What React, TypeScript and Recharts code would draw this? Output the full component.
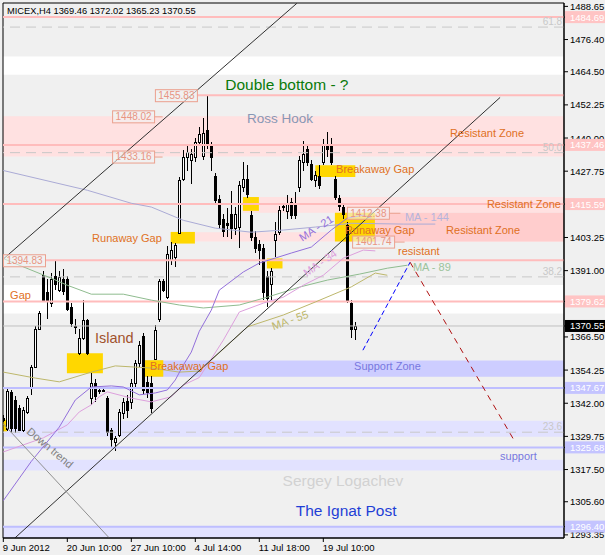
import React from "react";
import {
  ComposedChart,
  Bar,
  Line,
  XAxis,
  YAxis,
  ReferenceArea,
  ReferenceLine,
  ReferenceDot,
} from "recharts";

// MICEX H4 candles (bar index 0..88)
const opens = [
  1336.5, 1332.4, 1346.3, 1343.2, 1340.1, 1332.1, 1338.9, 1348.1, 1355.5, 1369.6,
  1389.4, 1383.0, 1379.0, 1389.0, 1384.0, 1388.0, 1388.0, 1377.5, 1370.6, 1360.4,
  1366.1, 1372.6, 1343.8, 1349.5, 1347.0, 1346.8, 1344.0, 1332.0, 1327.5, 1330.3,
  1338.5, 1343.0, 1342.6, 1349.4, 1356.7, 1367.0, 1350.0, 1349.4, 1358.5, 1373.0,
  1387.0, 1381.3, 1395.0, 1396.0, 1405.0, 1425.0, 1433.0, 1432.0, 1433.0, 1438.6,
  1433.5, 1442.8, 1437.5, 1426.0, 1417.5, 1410.0, 1408.5, 1412.0, 1406.6, 1407.2,
  1422.0, 1425.0, 1411.5, 1403.5, 1401.0, 1399.5, 1389.0, 1386.0, 1402.3, 1405.3,
  1414.5, 1413.0, 1416.4, 1416.0, 1422.0, 1431.0, 1436.0, 1430.5, 1424.4, 1426.0,
  1431.0, 1437.0, 1437.3, 1425.0, 1418.0, 1414.5, 1408.0, 1379.0, 1369.46,
];
const highs = [
  1337.5, 1348.1, 1347.0, 1344.5, 1341.5, 1340.5, 1344.5, 1356.3, 1370.5, 1376.0,
  1391.0, 1388.0, 1390.0, 1394.5, 1391.0, 1391.5, 1389.0, 1379.0, 1373.0, 1369.5,
  1380.1, 1373.0, 1353.0, 1351.0, 1348.0, 1347.5, 1344.5, 1333.0, 1330.0, 1340.0,
  1344.0, 1345.0, 1351.0, 1358.0, 1365.0, 1368.0, 1352.0, 1352.0, 1371.0, 1388.0,
  1388.0, 1400.0, 1401.6, 1401.2, 1425.6, 1435.5, 1437.0, 1436.0, 1440.0, 1444.0,
  1447.5, 1455.8, 1438.5, 1427.0, 1419.0, 1412.0, 1414.0, 1420.5, 1414.5, 1424.0,
  1431.0, 1430.0, 1413.0, 1405.5, 1402.5, 1401.0, 1391.0, 1392.0, 1409.0, 1415.0,
  1416.0, 1419.0, 1418.0, 1420.0, 1433.5, 1439.0, 1437.0, 1432.0, 1428.0, 1430.0,
  1439.5, 1442.3, 1440.0, 1426.0, 1419.0, 1416.0, 1409.0, 1380.0, 1372.02,
];
const lows = [
  1335.0, 1331.7, 1331.5, 1331.0, 1331.7, 1331.5, 1338.0, 1345.0, 1355.0, 1369.0,
  1380.1, 1373.0, 1377.5, 1384.0, 1383.0, 1382.0, 1376.0, 1370.0, 1367.5, 1360.0,
  1365.5, 1360.0, 1341.5, 1342.5, 1345.5, 1346.0, 1330.0, 1325.7, 1324.5, 1329.5,
  1336.0, 1336.5, 1340.0, 1348.0, 1355.5, 1345.5, 1344.0, 1338.3, 1358.0, 1372.0,
  1383.0, 1380.5, 1393.0, 1392.5, 1404.5, 1424.0, 1428.0, 1423.0, 1431.0, 1437.0,
  1432.0, 1436.0, 1428.0, 1415.5, 1406.5, 1403.5, 1403.5, 1402.8, 1404.0, 1399.2,
  1420.0, 1418.0, 1402.0, 1397.5, 1393.0, 1380.0, 1377.5, 1380.0, 1396.0, 1404.0,
  1413.0, 1410.0, 1410.0, 1410.0, 1420.0, 1428.0, 1429.5, 1424.0, 1422.0, 1421.0,
  1430.0, 1433.0, 1430.0, 1417.0, 1413.0, 1410.0, 1379.0, 1366.0, 1365.23,
];
const closes = [
  1335.7, 1346.6, 1332.8, 1332.9, 1332.1, 1339.5, 1343.8, 1355.5, 1369.6, 1375.2,
  1380.1, 1380.0, 1388.0, 1386.0, 1388.5, 1383.5, 1377.0, 1371.5, 1370.3, 1366.0,
  1372.6, 1360.5, 1349.4, 1344.5, 1346.8, 1346.6, 1331.5, 1328.8, 1329.0, 1338.9,
  1342.5, 1339.5, 1349.4, 1356.7, 1363.5, 1347.0, 1346.0, 1340.1, 1369.0, 1387.0,
  1383.8, 1397.3, 1398.5, 1400.5, 1424.4, 1433.0, 1435.0, 1434.0, 1438.6, 1441.6,
  1442.0, 1437.3, 1433.0, 1417.0, 1408.4, 1405.5, 1408.0, 1406.6, 1412.0, 1422.6,
  1425.0, 1419.5, 1403.5, 1399.2, 1398.5, 1383.0, 1381.0, 1391.0, 1404.5, 1413.3,
  1415.0, 1416.0, 1411.5, 1411.5, 1431.8, 1434.0, 1431.0, 1425.0, 1426.3, 1422.6,
  1437.3, 1436.0, 1431.1, 1418.2, 1415.0, 1412.0, 1380.0, 1369.5, 1370.55,
];

// shifted moving averages as [bar, price]
const ma21 = [
  [0, 1306], [7, 1320.5], [14, 1333.2], [18, 1343.2], [22, 1348.0], [27, 1348.4],
  [30, 1348.0], [34, 1345.1], [38, 1345.8], [41, 1346.9], [43, 1350.6], [45, 1356.1],
  [47, 1360.9], [49, 1368.6], [52, 1376.4], [54, 1383.8], [60, 1390.5], [64, 1393.8],
  [72, 1397.5], [77, 1399.7], [82, 1406.0], [86, 1410.4], [90, 1411.5], [92, 1410.4],
];
const ma34 = [
  [0, 1324.0], [10, 1329.2], [16, 1334.0], [19, 1338.8], [22, 1341.4], [24, 1344.4],
  [26, 1346.2], [32, 1343.9], [37, 1342.5], [42, 1344.4], [45, 1348.7], [49, 1351.5],
  [55, 1365.3], [59, 1375.7], [65, 1379.0], [70, 1381.2], [75, 1385.6], [80, 1389.3],
  [85, 1395.6], [90, 1398.6], [93, 1398.3],
];
const ma55 = [
  [0, 1353.5], [8, 1351.3], [14, 1349.9], [22, 1353.5], [28, 1355.8], [37, 1355.0],
  [44, 1353.5], [49, 1353.9], [55, 1362.0], [61, 1370.2], [70, 1374.6], [78, 1379.4],
  [87, 1385.0], [93, 1390.1], [96, 1389.3],
];
const ma89 = [
  [0, 1395.5], [2, 1394.2], [12, 1388.2], [16, 1385.6], [22, 1382.3], [30, 1382.3],
  [37, 1380.1], [44, 1378.3], [50, 1377.2], [59, 1378.3], [66, 1381.2], [74, 1384.9],
  [81, 1387.5], [89, 1389.7], [96, 1391.9], [101, 1393.0],
];
const ma144 = [
  [0, 1428.0], [21, 1420.7], [32, 1415.9], [37, 1414.5], [45, 1409.6], [53, 1406.7],
  [62, 1405.2], [70, 1406.0], [78, 1407.1], [87, 1408.5], [100, 1408.2], [108, 1408.2],
];

const timeTicks = [0, 16, 32, 48, 64, 80];
const timeLabels = ["9 Jun 2012", "20 Jun 10:00", "27 Jun 10:00", "4 Jul 14:00", "11 Jul 18:00", "19 Jul 10:00"];

const priceTicks = [
  1488.65, 1476.4, 1464.5, 1452.25, 1440.0, 1427.75, 1403.25, 1391.0,
  1366.5, 1354.25, 1342.0, 1329.75, 1317.5, 1305.6, 1293.35,
];
const tagPrices = [1484.69, 1437.46, 1415.59, 1379.62, 1370.55, 1347.67, 1325.68, 1296.4];
const tagKinds = ["res", "res", "res", "res", "bid", "sup", "sup", "sup"];

const fiboLevels = [1481.0, 1434.6, 1388.7, 1331.3];
const fiboNames = ["61.8", "50.0", "38.2", "23.6"];

const X0 = -0.075;
const X1 = 140.175;
const Y0 = 1292.2;
const Y1 = 1489.9;
const FONT = "'Liberation Sans', Arial, sans-serif";

const PINK = "#FFBCBC";
const LAV = "#BEBEFF";
const GOLD = "#FFD700";
const ORANGE = "#E07024";

const pick = (pts: number[][], i: number) => {
  const p = pts.find((q) => q[0] === i);
  return p ? p[1] : null;
};

const rows = Array.from({ length: 111 }, (_, i) => ({
  i,
  o: i < opens.length ? opens[i] : null,
  h: i < highs.length ? highs[i] : null,
  l: i < lows.length ? lows[i] : null,
  c: i < closes.length ? closes[i] : null,
  ma21: pick(ma21, i),
  ma34: pick(ma34, i),
  ma55: pick(ma55, i),
  ma89: pick(ma89, i),
  ma144: pick(ma144, i),
}));

// background bands: [x1, x2, top, bottom, colour]
const bands: [number, number, number, number, string][] = [
  [X0, X1, 1470.1, 1463.4, "#FFFFFF"],
  [X0, X1, 1385.7, 1375.2, "#FFFFFF"],
  [X0, X1, 1448.02, 1433.16, "#FFE1E1"],
  [59.9, X1, 1418.2, 1412.38, "#FFE1E1"],
  [41.85, X1, 1405.2, 1401.74, "#FFE1E1"],
  [84.2, X1, 1412.38, 1401.74, "#FFCDCD"],
  [35.4, X1, 1357.8, 1351.8, "#CDCDFF"],
  [X0, X1, 1335.5, 1329.6, "#E2E2FF"],
  [X0, X1, 1321.1, 1317.1, "#E2E2FF"],
  [X0, X1, 1296.3, Y0, "#E2E2FF"],
];

const gaps: [number, number, number, number][] = [
  [X0, 0.9, 1335.9, 1331.6],
  [15.9, 24.9, 1360.5, 1353.1],
  [35.4, 40.0, 1357.9, 1351.8],
  [41.85, 47.9, 1405.3, 1401.0],
  [59.9, 63.9, 1418.2, 1413.1],
  [65.9, 69.8, 1395.5, 1391.8],
  [78.0, 88.0, 1429.9, 1425.6],
  [82.9, 92.9, 1412.38, 1401.74],
];

// level lines: [from, to, price, colour]
const levels: [number, number, number, string][] = [
  [X0, X1, 1484.69, PINK],
  [48.4, X1, 1455.83, PINK],
  [X0, X1, 1437.46, PINK],
  [X0, X1, 1415.59, PINK],
  [10.4, X1, 1394.83, PINK],
  [X0, X1, 1379.62, PINK],
  [X0, X1, 1347.67, LAV],
  [X0, X1, 1325.68, LAV],
  [X0, X1, 1296.4, LAV],
];

const priceBoxes: [string, number, number, number][] = [
  ["1455.83", 37.9, 1455.83, 0],
  ["1448.02", 27.2, 1448.02, 8],
  ["1433.16", 27.2, 1433.16, 8],
  ["1394.83", X0, 1394.83, 0],
  ["1412.38", 85.9, 1412.38, 11],
  ["1401.74", 87.2, 1401.74, 10],
];

// trend lines: [x1, p1, x2, p2, colour, dash]
const trends: [number, number, number, number, string, string | undefined][] = [
  [X0, 1395.2, 73.4, 1489.8, "#303030", undefined],
  [2.9, 1292.2, 124.2, 1455.0, "#303030", undefined],
  [X0, 1334.5, 26.5, 1292.2, "#909090", undefined],
  [89.9, 1361.6, 101.7, 1394.1, "#0000FF", "5 3"],
  [101.7, 1394.1, 127.9, 1327.8, "#B01010", "6 5"],
];

type Note = { t: string; x: number; y: number; c: string; s: number; a?: string; r?: number };
const notes: Note[] = [
  { t: "MICEX,H4  1369.46 1372.02 1365.23 1370.55", x: 0.93, y: 1486.9, c: "#000000", s: 9.3 },
  { t: "Double bottom - ?", x: 70.9, y: 1459.9, c: "#0A7A0A", s: 15.5, a: "middle" },
  { t: "Ross Hook", x: 69.2, y: 1447.3, c: "#8797B5", s: 13.5, a: "middle" },
  { t: "Resistant Zone", x: 111.7, y: 1441.8, c: ORANGE, s: 11 },
  { t: "Resistant Zone", x: 120.9, y: 1415.6, c: ORANGE, s: 11 },
  { t: "Resistant Zone", x: 110.7, y: 1406.0, c: ORANGE, s: 11 },
  { t: "Breakaway Gap", x: 83.2, y: 1428.4, c: ORANGE, s: 11 },
  { t: "Breakaway Gap", x: 36.7, y: 1355.7, c: ORANGE, s: 11 },
  { t: "Runaway Gap", x: 22.2, y: 1403.0, c: ORANGE, s: 11 },
  { t: "Runaway Gap", x: 85.4, y: 1405.9, c: ORANGE, s: 11 },
  { t: "Gap", x: 1.7, y: 1382.0, c: ORANGE, s: 11 },
  { t: "Island", x: 22.9, y: 1366.1, c: "#A0522D", s: 14.5 },
  { t: "resistant", x: 98.7, y: 1398.2, c: ORANGE, s: 11 },
  { t: "Support Zone", x: 87.7, y: 1355.8, c: "#7878E0", s: 11 },
  { t: "support", x: 124.2, y: 1322.3, c: "#7878E0", s: 11 },
  { t: "Sergey Logachev", x: 84.9, y: 1313.3, c: "#D2D2D2", s: 15.5, a: "middle" },
  { t: "The Ignat Post", x: 85.7, y: 1302.3, c: "#1F3FD6", s: 15.5, a: "middle" },
  { t: "Down trend", x: 11.7, y: 1325.5, c: "#808080", s: 11, a: "middle", r: 40 },
  { t: "MA - 21", x: 78.2, y: 1406.7, c: "#9370DB", s: 11, a: "middle", r: -33 },
  { t: "MA - 34", x: 79.2, y: 1393.8, c: "#DDA0DD", s: 11, a: "middle", r: -35 },
  { t: "MA - 55", x: 71.7, y: 1372.7, c: "#BDB76B", s: 11, a: "middle", r: -20 },
  { t: "MA - 89", x: 102.4, y: 1392.3, c: "#9CC39C", s: 11 },
  { t: "MA - 144", x: 100.4, y: 1410.7, c: "#B4B4DC", s: 11 },
];

const renderCandle = (props: any) => {
  const { x, y, width, height, payload } = props;
  if (!payload || payload.h == null) return <g />;
  const { o, h, l, c } = payload;
  const n = Math.round(x + width / 2);
  const k = height / (h - l || 1);
  const yO = y + (h - o) * k;
  const yC = y + (h - c) * k;
  const top = Math.round(Math.min(yO, yC));
  const bot = Math.round(Math.max(yO, yC));
  return (
    <g>
      <line x1={n + 0.5} x2={n + 0.5} y1={Math.round(y)} y2={Math.round(y + height)} stroke="#000" strokeWidth={1} />
      <rect
        x={n - 0.5}
        y={top + 0.5}
        width={2}
        height={Math.max(bot - top, 1)}
        fill={c >= o ? "#FFFFFF" : "#000000"}
        stroke="#000"
        strokeWidth={1}
      />
    </g>
  );
};

const PriceTick = (props: any) => {
  const { x, y, payload } = props;
  const v = Number(payload.value);
  const ti = tagPrices.findIndex((p) => Math.abs(p - v) < 0.001);
  if (ti >= 0) {
    const kind = tagKinds[ti];
    const bg = kind === "bid" ? "#000000" : kind === "res" ? "#FFC4C4" : "#C4C4FF";
    return (
      <g>
        <rect x={x - 5} y={y - 6} width={41} height={12} fill={bg} />
        <text x={x} y={y} dy={3.5} fill="#FFFFFF" fontSize={9.5} fontFamily={FONT}>
          {v.toFixed(2)}
        </text>
      </g>
    );
  }
  return (
    <text x={x} y={y} dy={3.5} fill="#000000" fontSize={9.5} fontFamily={FONT}>
      {v.toFixed(2)}
    </text>
  );
};

const TimeTick = (props: any) => {
  const { x, y, payload } = props;
  const k = timeTicks.indexOf(Number(payload.value));
  return (
    <text x={x - 0.5} y={y} dy={8} fill="#000000" fontSize={9.5} fontFamily={FONT}>
      {timeLabels[k]}
    </text>
  );
};

export default function App() {
  return (
    <div style={{ position: "fixed", left: 0, top: 0, width: 605, height: 555, background: "#F0F0F0" }}>
      <ComposedChart width={605} height={555} data={rows} margin={{ top: 3, right: 0, bottom: 0, left: 3 }}>
        <XAxis
          dataKey="i"
          type="number"
          domain={[X0, X1]}
          allowDataOverflow
          ticks={timeTicks}
          interval={0}
          height={17}
          axisLine={{ stroke: "#000" }}
          tickLine={{ stroke: "#000" }}
          tickSize={4}
          tickMargin={1}
          tick={<TimeTick />}
        />
        <YAxis
          orientation="right"
          type="number"
          domain={[Y0, Y1]}
          allowDataOverflow
          ticks={[...priceTicks, ...tagPrices]}
          interval={0}
          width={41}
          axisLine={{ stroke: "#000" }}
          tickLine={{ stroke: "#000" }}
          tickSize={4}
          tickMargin={2}
          tick={<PriceTick />}
        />

        {bands.map((b, k) => (
          <ReferenceArea key={`b${k}`} x1={b[0]} x2={b[1]} y1={b[2]} y2={b[3]} fill={b[4]} fillOpacity={1} stroke="none" ifOverflow="hidden" />
        ))}
        {fiboLevels.map((p, k) => (
          <ReferenceLine key={`f${k}`} y={p} stroke="#C8C8C8" strokeDasharray="10 6" />
        ))}
        {levels.map((l, k) => (
          <ReferenceLine key={`l${k}`} segment={[{ x: l[0], y: l[2] }, { x: l[1], y: l[2] }]} stroke={l[3]} strokeWidth={2} />
        ))}
        <ReferenceLine y={1370.55} stroke="#C0C0C0" />
        {gaps.map((g, k) => (
          <ReferenceArea key={`g${k}`} x1={g[0]} x2={g[1]} y1={g[2]} y2={g[3]} fill={GOLD} fillOpacity={1} stroke="none" ifOverflow="hidden" />
        ))}

        <Line dataKey="ma144" stroke="#ABABD6" strokeWidth={1} dot={false} connectNulls isAnimationActive={false} />
        <Line dataKey="ma89" stroke="#8FBC8F" strokeWidth={1} dot={false} connectNulls isAnimationActive={false} />
        <Line dataKey="ma55" stroke="#BDB76B" strokeWidth={1} dot={false} connectNulls isAnimationActive={false} />
        <Line dataKey="ma34" stroke="#DDA0DD" strokeWidth={1} dot={false} connectNulls isAnimationActive={false} />
        <Line dataKey="ma21" stroke="#9370DB" strokeWidth={1} dot={false} connectNulls isAnimationActive={false} />

        <Bar
          dataKey={(d: any) => (d.h == null ? null : [d.l, d.h])}
          barSize={3}
          shape={renderCandle}
          isAnimationActive={false}
        />

        {trends.map((t, k) => (
          <ReferenceLine
            key={`t${k}`}
            segment={[{ x: t[0], y: t[1] }, { x: t[2], y: t[3] }]}
            stroke={t[4]}
            strokeWidth={1}
            strokeDasharray={t[5]}
            ifOverflow="hidden"
          />
        ))}

        {priceBoxes.map((b, k) => (
          <ReferenceDot
            key={`p${k}`}
            x={b[1]}
            y={b[2]}
            r={0}
            ifOverflow="visible"
            shape={(p: any) => (
              <g>
                <rect x={p.cx + 0.5} y={p.cy - 5.5} width={42} height={12} fill="#F2F2F2" fillOpacity={0.6} stroke="#EBA08E" />
                <text x={p.cx + 21.5} y={p.cy} dy={3.8} textAnchor="middle" fill="#E89582" fontSize={10} fontFamily={FONT}>
                  {b[0]}
                </text>
                {b[3] > 0 && <line x1={p.cx + 42.5} x2={p.cx + 42.5 + b[3]} y1={p.cy + 0.5} y2={p.cy + 0.5} stroke="#EBA08E" />}
              </g>
            )}
          />
        ))}

        {fiboLevels.map((p, k) => (
          <ReferenceDot
            key={`fl${k}`}
            x={139.7}
            y={p}
            r={0}
            ifOverflow="visible"
            shape={(q: any) => (
              <text x={q.cx} y={q.cy - 2} textAnchor="end" fill="#C8C8C8" fontSize={10} fontFamily={FONT}>
                {fiboNames[k]}
              </text>
            )}
          />
        ))}

        {notes.map((n, k) => (
          <ReferenceDot
            key={`n${k}`}
            x={n.x}
            y={n.y}
            r={0}
            ifOverflow="visible"
            shape={(p: any) => (
              <text
                x={p.cx}
                y={p.cy}
                dy={n.s * 0.35}
                fill={n.c}
                fontSize={n.s}
                fontFamily={FONT}
                textAnchor={n.a || "start"}
                transform={n.r ? `rotate(${n.r} ${p.cx} ${p.cy})` : undefined}
              >
                {n.t}
              </text>
            )}
          />
        ))}

        <ReferenceArea x1={X0} x2={X1} y1={Y0} y2={Y1} fill="none" stroke="#000" strokeWidth={1} ifOverflow="visible" />
      </ComposedChart>
    </div>
  );
}
